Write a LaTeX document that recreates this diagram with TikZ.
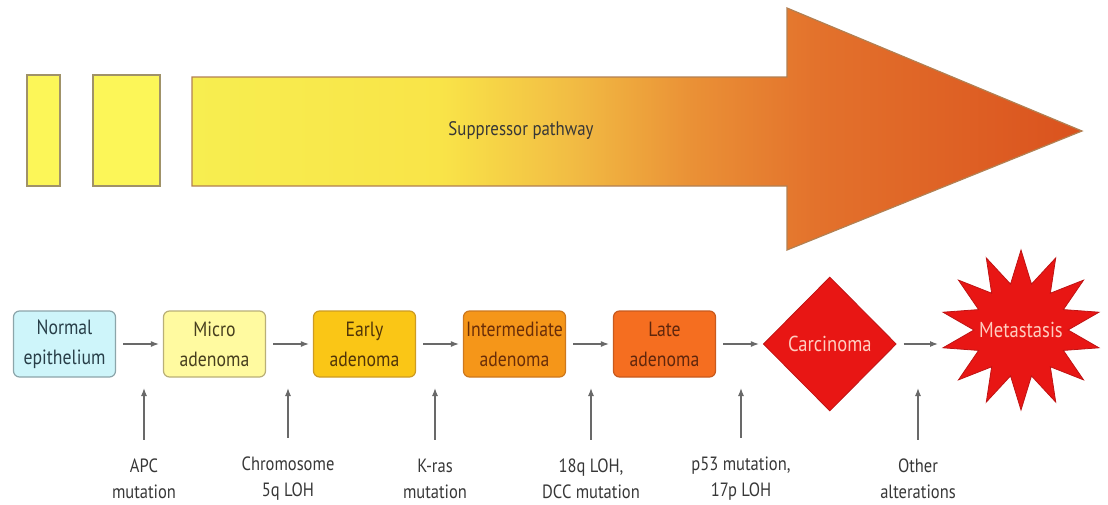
\documentclass[tikz,border=0pt]{standalone}
\usepackage{fontspec}
\setmainfont{PT Sans}[FakeStretch=0.86]
\usetikzlibrary{shapes.geometric, arrows.meta, positioning, calc}
\usepackage{xcolor}
\definecolor{suppA}{RGB}{247, 238, 80}
\definecolor{suppB}{RGB}{249, 228, 72}
\definecolor{suppC}{RGB}{242, 190, 68}
\definecolor{suppD}{RGB}{234, 145, 54}
\definecolor{suppE}{RGB}{227, 114, 44}
\definecolor{suppF}{RGB}{218, 82, 30}
\definecolor{suppedge}{RGB}{178, 128, 82}
\definecolor{barfill}{RGB}{252, 246, 88}
\definecolor{baredge}{RGB}{160, 146, 104}
\definecolor{normfill}{RGB}{206, 245, 250}
\definecolor{normedge}{RGB}{140, 165, 170}
\definecolor{normtext}{RGB}{40, 62, 72}
\definecolor{microfill}{RGB}{255, 250, 160}
\definecolor{microedge}{RGB}{185, 175, 120}
\definecolor{microtext}{RGB}{70, 62, 30}
\definecolor{earlyfill}{RGB}{250, 198, 22}
\definecolor{earlyedge}{RGB}{205, 155, 35}
\definecolor{earlytext}{RGB}{80, 52, 8}
\definecolor{interfill}{RGB}{245, 150, 25}
\definecolor{interedge}{RGB}{205, 120, 30}
\definecolor{intertext}{RGB}{105, 45, 8}
\definecolor{latefill}{RGB}{245, 110, 32}
\definecolor{lateedge}{RGB}{200, 90, 30}
\definecolor{latetext}{RGB}{95, 38, 12}
\definecolor{cancred}{RGB}{232, 22, 20}
\definecolor{cancedge}{RGB}{190, 20, 20}
\definecolor{canctext}{RGB}{255, 205, 192}
\definecolor{arrgray}{RGB}{105, 105, 105}
\definecolor{lblgray}{RGB}{55, 55, 55}
\pgfdeclarehorizontalshading{suppshade}{100bp}{color(0bp)=(suppA); color(25bp)=(suppA);
  color(39bp)=(suppB); color(46bp)=(suppC); color(53bp)=(suppD); color(60bp)=(suppE);
  color(75bp)=(suppF); color(100bp)=(suppF)}
\tikzset{
  stagebox/.style={
    rectangle, rounded corners=3pt, line width=0.6pt,
    minimum width=51pt, minimum height=33pt, align=center,
    font=\fontsize{10.3}{15}\selectfont, inner sep=0.5pt
  },
  eventlbl/.style={
    align=center, text=lblgray,
    font=\fontsize{9.6}{13}\selectfont, inner sep=3pt
  },
  harr/.style={-{Latex[length=4pt,width=3pt]}, line width=0.6pt, color=arrgray,
    shorten <=3.5pt, shorten >=2pt},
  varr/.style={-{Latex[length=4pt,width=3pt]}, line width=0.6pt, color=arrgray,
    shorten <=6.5pt},
}

\begin{document}
\begin{tikzpicture}[x=0.5pt, y=0.5pt, node distance=23.4pt]
        \useasboundingbox (0,0) rectangle (1108,-504);
        % top bars and pathway arrow
        \draw[fill=barfill, draw=baredge, line width=0.6pt] (27,-75) rectangle (60,-186);
        \draw[fill=barfill, draw=baredge, line width=0.6pt] (93,-75) rectangle (160,-186);
        \draw[shading=suppshade, draw=suppedge, line width=0.6pt]
          (192,-77) -- (787,-77) -- (787,-8) -- (1082,-131) -- (787,-250)
          -- (787,-186) -- (192,-186) -- cycle;
        \node[text=lblgray, font=\fontsize{9.8}{12}\selectfont] (supp) at (521,-131) {Suppressor pathway};
        % stages
        \node[stagebox, fill=normfill, draw=normedge, text=normtext] (norm) at (64.5,-344) {Normal\\epithelium};
        \node[stagebox, fill=microfill, draw=microedge, text=microtext, right=of norm] (micro) {Micro\\adenoma};
        \node[stagebox, fill=earlyfill, draw=earlyedge, text=earlytext, right=of micro] (early) {Early\\adenoma};
        \node[stagebox, fill=interfill, draw=interedge, text=intertext, right=of early] (inter) {Intermediate\\adenoma};
        \node[stagebox, fill=latefill, draw=lateedge, text=latetext, right=of inter] (late) {Late\\adenoma};
        \node[diamond, fill=cancred, draw=cancedge, text=canctext, inner sep=0pt,
          minimum width=66.5pt, minimum height=67pt, font=\fontsize{10.8}{12}\selectfont,
          right=of late] (carc) {Carcinoma};
        \node[star, star points=14, star point ratio=1.7, fill=cancred, draw=cancedge,
          inner sep=0pt, minimum size=80pt,
          label={[text=canctext, font=\fontsize{10.8}{12}\selectfont]center:Metastasis}] (meta) at (1021,-330) {};
        \coordinate (metain) at (942,-344);
        \draw[harr] (norm)--(micro); \draw[harr] (micro)--(early);
        \draw[harr] (early)--(inter); \draw[harr] (inter)--(late);
        \draw[harr] (late)--(carc); \draw[harr] (carc)--(metain);
        % genetic events
        \node[eventlbl] (apc) at (144,-479) {APC\\mutation};
        \node[eventlbl] (chrom) at (288,-479) {Chromosome\\5q LOH};
        \node[eventlbl] (kras) at (435,-479) {K-ras\\mutation};
        \node[eventlbl] (dcc) at (591,-479) {18q LOH,\\DCC mutation};
        \node[eventlbl] (ptf) at (741,-479) {p53 mutation,\\17p LOH};
        \node[eventlbl] (other) at (918,-479) {Other\\alterations};
        \coordinate (apctip) at (144,-388);
        \coordinate (chromtip) at (288,-388);
        \coordinate (krastip) at (435,-388);
        \coordinate (dcctip) at (591,-388);
        \coordinate (ptftip) at (741,-388);
        \coordinate (othertip) at (918,-388);
        \draw[varr] (apc.north)--(apctip); \draw[varr] (chrom.north)--(chromtip);
        \draw[varr] (kras.north)--(krastip); \draw[varr] (dcc.north)--(dcctip);
        \draw[varr] (ptf.north)--(ptftip); \draw[varr] (other.north)--(othertip);
      \end{tikzpicture}
\end{document}
